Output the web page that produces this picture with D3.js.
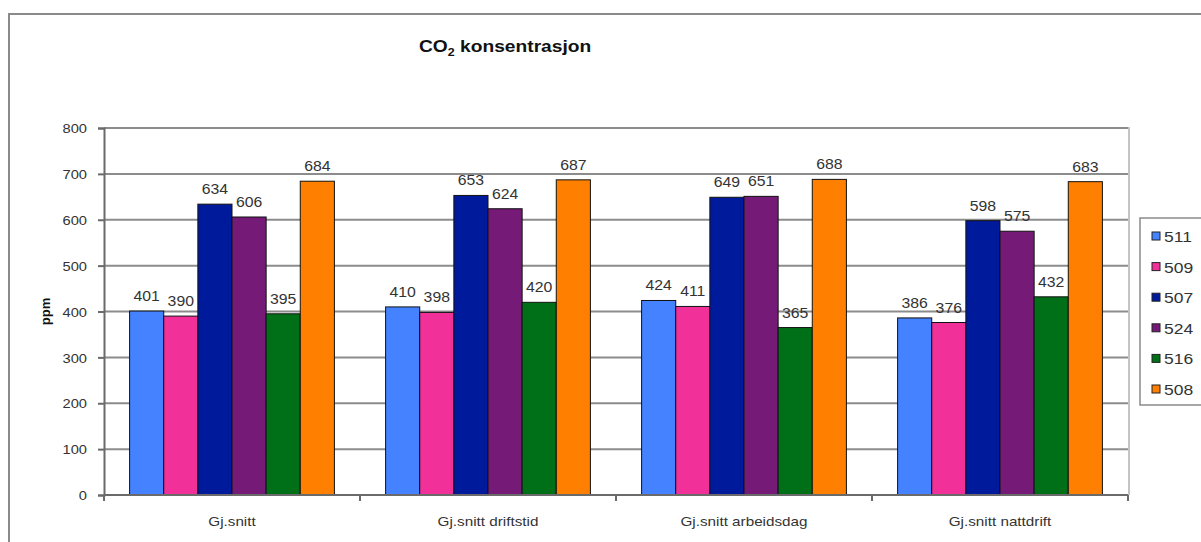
<!DOCTYPE html>
<html>
<head>
<meta charset="utf-8">
<script src="https://cdn.jsdelivr.net/npm/d3@7"></script>
<style>
  html, body { margin: 0; padding: 0; background: #fff; }
  svg { display: block; font-family: "Liberation Sans", Arial, sans-serif; }
</style>
</head>
<body>
<svg id="chart" width="1201" height="542"></svg>
<script>
// Categories along the x axis
const categories = ["Gj.snitt", "Gj.snitt driftstid", "Gj.snitt arbeidsdag", "Gj.snitt nattdrift"];
// Sensor series (legend order)
const seriesNames = ["511", "509", "507", "524", "516", "508"];
const seriesColors = ["#4582FF", "#F2309A", "#001A9C", "#761A78", "#007018", "#FF7F00"];
// CO2 values in ppm per series, one per category
const s511 = [401, 410, 424, 386];
const s509 = [390, 398, 411, 376];
const s507 = [634, 653, 649, 598];
const s524 = [606, 624, 651, 575];
const s516 = [395, 420, 365, 432];
const s508 = [684, 687, 688, 683];
const seriesValues = [s511, s509, s507, s524, s516, s508];
const yTicks = [0, 100, 200, 300, 400, 500, 600, 700, 800];

const svg = d3.select("#chart");
const plotLeft = 104, plotRight = 1128, plotTop = 128, plotBottom = 495;
const STRETCH = 1.13; // text is rendered slightly wide

// Place a text element at (x, y) with horizontal stretch
function place(sel, x, y) {
  sel.attr("x", 0).attr("y", 0)
    .attr("transform", (d, i) => {
      const px = typeof x === "function" ? x(d, i) : x;
      const py = typeof y === "function" ? y(d, i) : y;
      return `translate(${px},${py}) scale(${STRETCH},1)`;
    });
  return sel;
}

// Outer chart frame (top and left edges visible)
svg.append("path")
  .attr("d", `M9,1000 L9,14 L1300,14`)
  .attr("fill", "none").attr("stroke", "#8a8a8a").attr("stroke-width", 2);

const x0 = d3.scaleBand().domain(categories).range([plotLeft, plotRight]).paddingInner(0.2).paddingOuter(0.1);
const x1 = d3.scaleBand().domain(seriesNames).range([0, x0.bandwidth()]);
const y = d3.scaleLinear().domain([0, 800]).range([plotBottom, plotTop]);

// Horizontal gridlines
svg.append("g").selectAll("line").data(yTicks.filter(d => d > 0)).join("line")
  .attr("x1", plotLeft).attr("x2", plotRight)
  .attr("y1", d => y(d)).attr("y2", d => y(d))
  .attr("stroke", "#8c8c8c").attr("stroke-width", 2);

// Plot-area right border
svg.append("line")
  .attr("x1", plotRight + 1).attr("x2", plotRight + 1).attr("y1", plotTop - 1).attr("y2", plotBottom)
  .attr("stroke", "#c4c4c4").attr("stroke-width", 2);

// Bars
const groups = svg.append("g").selectAll("g").data(categories).join("g")
  .attr("transform", d => `translate(${x0(d)},0)`);

groups.each(function(cat, ci) {
  const g = d3.select(this);
  const rows = seriesNames.map((s, si) => ({ s, si, v: seriesValues[si][ci] }));
  g.selectAll("rect").data(rows).join("rect")
    .attr("x", d => x1(d.s))
    .attr("y", d => y(d.v))
    .attr("width", x1.bandwidth())
    .attr("height", d => y(0) - y(d.v))
    .attr("fill", d => seriesColors[d.si])
    .attr("stroke", "#111").attr("stroke-width", 1);
  place(g.selectAll("text").data(rows).join("text"),
        d => x1(d.s) + x1.bandwidth() / 2, d => y(d.v) - 10)
    .attr("text-anchor", "middle")
    .attr("font-size", 14).attr("fill", "#333")
    .text(d => d.v);
});

// Y axis
const yAxis = svg.append("g").attr("transform", `translate(${plotLeft},0)`)
  .call(d3.axisLeft(y).tickValues(yTicks).tickSize(6).tickPadding(10));
yAxis.select(".domain").attr("stroke", "#6a6a6a").attr("stroke-width", 2);
yAxis.selectAll(".tick line").attr("stroke", "#6a6a6a").attr("stroke-width", 2);
yAxis.selectAll(".tick text")
  .attr("font-size", 13).attr("fill", "#333")
  .attr("font-family", "Liberation Sans, Arial, sans-serif")
  .attr("x", 0).attr("dy", "0.36em")
  .attr("transform", `translate(-17,0) scale(${STRETCH},1)`);

// X axis with ticks at category boundaries
const xAxisG = svg.append("g").attr("transform", `translate(0,${plotBottom})`);
xAxisG.append("line").attr("x1", plotLeft).attr("x2", plotRight).attr("y1", 0).attr("y2", 0)
  .attr("stroke", "#6a6a6a").attr("stroke-width", 2);
const bounds = categories.map(c => x0(c) - x0.step() * x0.paddingInner() / 2).concat([plotRight]);
xAxisG.selectAll("line.tk").data(bounds).join("line").attr("class", "tk")
  .attr("x1", d => d).attr("x2", d => d).attr("y1", 0).attr("y2", 6)
  .attr("stroke", "#6a6a6a").attr("stroke-width", 2);
place(xAxisG.selectAll("text").data(categories).join("text"),
      d => x0(d) + x0.bandwidth() / 2, 31)
  .attr("text-anchor", "middle")
  .attr("font-size", 13.5).attr("fill", "#333")
  .text(d => d);

// Y axis title
svg.append("text")
  .attr("transform", `translate(50,${y(400)}) rotate(-90)`)
  .attr("text-anchor", "middle")
  .attr("font-size", 13).attr("font-weight", "bold").attr("fill", "#111")
  .text("ppm");

// Chart title with subscript
const title = place(svg.append("text"), 419, 52)
  .attr("font-size", 17).attr("font-weight", "bold").attr("fill", "#111");
title.append("tspan").text("CO");
title.append("tspan").attr("font-size", 11).attr("dy", 4).text("2");
title.append("tspan").attr("dy", -4).text(" konsentrasjon");

// Legend
const legend = svg.append("g");
legend.append("rect")
  .attr("x", 1140).attr("y", 218).attr("width", 80).attr("height", 187)
  .attr("fill", "#fff").attr("stroke", "#8a8a8a").attr("stroke-width", 1.5);
const items = legend.selectAll("g.item").data(seriesNames).join("g").attr("class", "item")
  .attr("transform", (d, i) => `translate(1152,${236 + i * 30.6})`);
items.append("rect")
  .attr("x", 0).attr("y", -4).attr("width", 8).attr("height", 8)
  .attr("fill", (d, i) => seriesColors[i]).attr("stroke", "#222").attr("stroke-width", 1);
place(items.append("text"), 12, 6)
  .attr("font-size", 15.5).attr("fill", "#333")
  .text(d => d);
</script>
</body>
</html>
